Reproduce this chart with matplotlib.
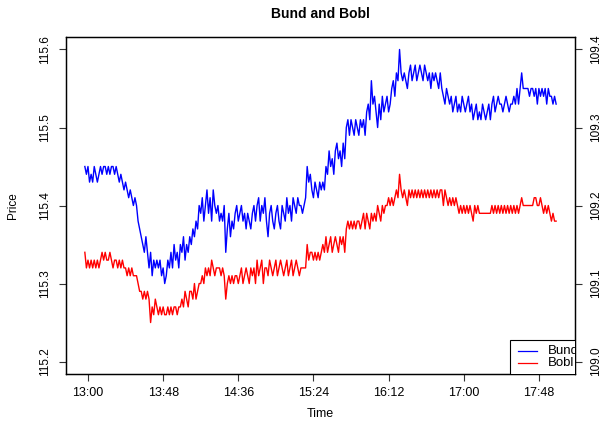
import numpy as np
import pandas as pd
import matplotlib
matplotlib.use("Agg")
import matplotlib.pyplot as plt
from matplotlib.patches import Rectangle
from matplotlib.lines import Line2D

plt.rcParams["font.family"] = ["Liberation Sans", "DejaVu Sans"]

# -----------------------------
# Data: one print per minute from 12:58, in hundredths over the big figure
# -----------------------------
bund_px = [
    45, 44, 45, 43, 44, 43, 45, 44, 43, 44,
    45, 44, 45, 45, 44, 45, 44, 45, 45, 44,
    45, 44, 43, 44, 43, 42,
    43, 42, 41, 42, 41, 40, 41,
    40, 38, 37,
    36, 35, 34, 36,
    34, 32, 34, 31, 33, 32,
    33, 32, 33, 31, 32, 30,
    31, 33, 32,
    34, 32, 35, 33, 34, 32, 35,
    34, 36, 33, 35, 34, 36,
    35, 37, 36,
    38, 37, 40,
    39, 41, 38, 40, 42, 39, 41, 38, 42, 40,
    39, 40, 38, 39, 38, 40,
    34, 37,
    39, 36, 38, 37, 39,
    40, 38, 39, 40, 38, 39,
    37, 39, 38, 37, 39, 40, 38,
    40, 41, 38, 40, 39, 41,
    38, 36, 39,
    40, 38, 37, 39, 40, 38, 37, 40, 39, 38,
    41, 39, 40, 38, 41, 40, 39, 41, 40,
    40, 39, 40, 41,
    45, 43, 44,
    42, 41, 43, 42, 41,
    43, 42, 43, 42,
    45, 44, 47, 45, 46, 44, 47,
    48, 46, 47, 45, 48, 46,
    50, 51, 49, 51, 50, 49, 51,
    50, 49, 51, 50, 51, 49,
    52, 53, 51,
    56, 53, 54,
    52, 50, 53, 51,
    54, 52, 53, 54, 52, 53,
    55, 56, 54,
    57, 56,
    60,
    57, 56, 57, 56,
    55,
    57, 58, 56, 57, 58, 56, 57, 58, 57, 56, 58,
    57, 56, 57, 55, 57, 56, 57, 56, 55, 57,
    55, 54, 53, 55, 54, 53,
    54, 52, 53, 54, 52, 53, 52, 54, 53, 52, 53, 54, 52,
    53, 51, 52, 53, 51, 52, 51, 53, 52, 51, 52, 53, 51,
    53, 54, 52, 53, 54, 53,
    53, 52, 53, 54, 53, 52, 53, 53, 54, 53,
    55, 53, 55,
    57,
    55, 55, 55, 55, 54, 55,
    55, 54, 55, 53, 55, 54, 55, 54, 55, 53, 55, 54,
    54, 53, 54, 53,
]

bobl_px = [
    14, 12, 13, 12, 13, 12, 13, 12, 13, 12,
    13, 14, 13, 14, 13, 13, 14,
    13, 12, 13, 13, 12, 13, 12, 13, 12,
    12, 11, 12, 11, 12, 11, 11,
    11, 10, 9,
    9, 8, 9, 8, 9, 8,
    5, 7, 6, 8,
    7, 6, 7, 6, 7, 6, 6, 7, 6,
    7, 6, 7, 7, 6, 7, 7,
    8, 7, 9, 8, 7, 9,
    9, 8, 10, 8, 9, 10,
    10, 11, 10, 12, 11, 12, 11,
    13, 12, 11, 12, 12,
    12, 11, 12, 11,
    8, 10,
    11, 10, 11, 10, 11, 11, 10, 11,
    12, 10, 11, 12, 11, 10, 12, 11, 12, 10,
    13, 11, 12, 13, 10, 12,
    12, 11, 13, 12, 11, 12, 13, 11, 12, 13, 12, 11, 12,
    13, 11, 12, 13, 11, 12, 13, 12, 11,
    12, 12, 12, 12,
    15, 13, 14,
    14, 13, 14, 13, 14, 13, 14,
    15, 14, 16, 14, 15, 16, 14, 15, 16,
    15, 14, 16, 15, 16, 14,
    17, 18, 17, 18, 17, 18, 17, 18, 18, 17,
    18, 19, 17, 19, 18, 17, 19, 18, 19,
    18, 20, 19, 18, 20, 19, 20,
    20, 21, 20, 21, 20,
    21, 22, 21,
    24,
    22, 21, 22, 21,
    20,
    22, 21, 22, 21, 22, 21, 22, 21, 22, 21, 22,
    21, 22, 21, 22, 21, 22, 21, 22, 21, 22,
    22, 20, 22, 21, 20,
    21, 20, 21, 20, 21,
    20, 19, 20, 19, 20, 19, 20, 19, 20, 19,
    18,
    20, 19, 20, 19, 19, 19, 19, 19, 19, 19, 19,
    20, 19, 20, 19, 20, 19, 20, 19, 20, 19, 20, 19, 20, 19, 20, 19, 20, 19, 20,
    21,
    20, 20, 20, 20, 20, 20, 20,
    21, 21, 20,
    20,
    21, 20,
    19, 20, 19, 20, 19,
    18, 19, 18, 18,
]

bund = 115 + np.array(bund_px) / 100
bobl = 109 + np.array(bobl_px) / 100

start = "2014-06-02 12:58"
t_bund = pd.date_range(start, periods=len(bund), freq="min")
t_bobl = pd.date_range(start, periods=len(bobl), freq="min")

series_names = ["Bund", "Bobl"]
time_labels = ["13:00", "13:48", "14:36", "15:24", "16:12", "17:00", "17:48"]
bund_axis = [115.2, 115.3, 115.4, 115.5, 115.6]
bobl_axis = [109.0, 109.1, 109.2, 109.3, 109.4]

# -----------------------------
# Figure
# -----------------------------
fig = plt.figure(figsize=(6.06, 4.24), dpi=100)
ax = fig.add_axes([0.1089, 0.1179, 0.8399, 0.7948])
ax2 = ax.twinx()

ax.plot(t_bund, bund, color="#0000ff", lw=1.0)
ax2.plot(t_bobl, bobl, color="#ff0000", lw=1.0)

# 4% padding on both ends, like base graphics
t0, t1 = t_bund[0], t_bund[-1]
pad = (t1 - t0) * 0.04
ax.set_xlim(t0 - pad, t1 + pad)

def padded(lims):
    span = lims[-1] - lims[0]
    return lims[0] - 0.04 * span, lims[-1] + 0.04 * span

ax.set_ylim(*padded(bund_axis))
ax2.set_ylim(*padded(bobl_axis))

day = t0.strftime("%Y-%m-%d")
ax.set_xticks(pd.to_datetime([f"{day} {s}" for s in time_labels]))
ax.set_xticklabels(time_labels)
ax.set_yticks(bund_axis)
ax.set_yticklabels([f"{v:.1f}" for v in bund_axis])
ax2.set_yticks(bobl_axis)
ax2.set_yticklabels([f"{v:.1f}" for v in bobl_axis])

ax.tick_params(axis="x", length=5, width=0.8, pad=4, labelsize=9, color="#333333")
ax.tick_params(axis="y", length=5, width=0.8, pad=6, labelsize=8.5,
               labelrotation=90, color="#333333")
ax2.tick_params(axis="y", length=5, width=0.8, pad=6, labelsize=8.5,
                labelrotation=90, color="#333333")
for lab in ax.get_yticklabels() + ax2.get_yticklabels():
    lab.set_va("center")

for a in (ax, ax2):
    for sp in a.spines.values():
        sp.set_linewidth(0.9)
        sp.set_color("black")

ax.set_title("Bund and Bobl", fontsize=10, fontweight="bold", pad=14)
ax.set_xlabel("Time", fontsize=9, labelpad=7)
ax.set_ylabel("Price", fontsize=8.5, labelpad=14)

# -----------------------------
# Legend box in the lower right, clipped by the plot region
# -----------------------------
ax2.add_patch(Rectangle((0.872, -0.05), 0.2, 0.151, transform=ax2.transAxes,
                        facecolor="white", edgecolor="black", lw=0.8,
                        clip_on=True, zorder=5))
for name, color, yy in zip(series_names, ["#0000ff", "#ff0000"], [0.068, 0.033]):
    ln = Line2D([0.889, 0.925], [yy, yy], transform=ax2.transAxes,
                color=color, lw=0.9, zorder=6)
    ax2.add_artist(ln)
    txt = ax2.text(0.946, yy, name, transform=ax2.transAxes, va="center",
                   fontsize=9.5, zorder=6)
    txt.set_clip_on(True)
    txt.set_clip_box(ax2.bbox)

plt.savefig("out.png", dpi=100)
